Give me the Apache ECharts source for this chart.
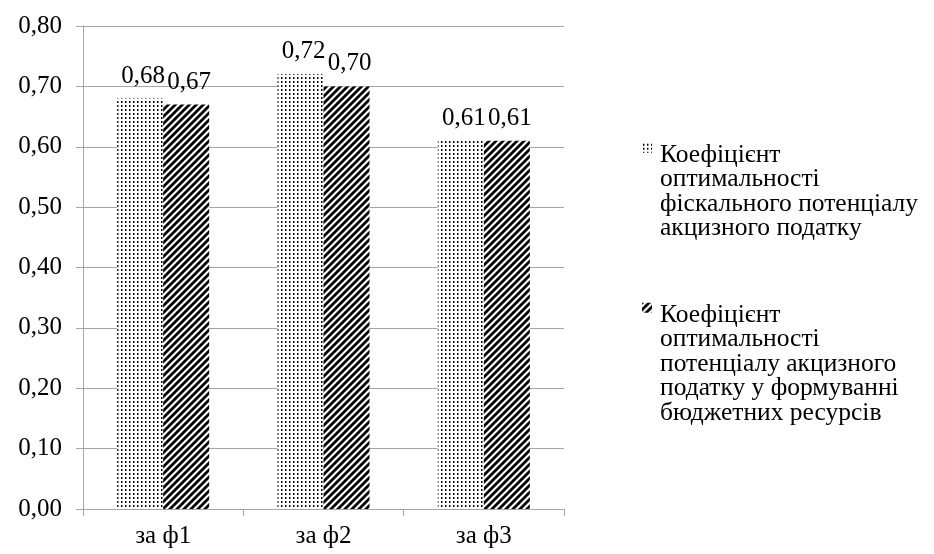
<!DOCTYPE html>
<html>
<head>
<meta charset="utf-8">
<script src="https://cdn.jsdelivr.net/npm/echarts@6/dist/echarts.min.js"></script>
<style>
  html, body { margin: 0; padding: 0; background: #fff; }
  #chart { width: 934px; height: 554px; }
</style>
</head>
<body>
<div id="chart"></div>
<script>
// Categories and the two coefficient series
const categories = ['за ф1', 'за ф2', 'за ф3'];
const fiscalPotential = [0.68, 0.72, 0.61];
const budgetResources = [0.67, 0.70, 0.61];
const seriesNames = [
  'Коефіцієнт\nоптимальності\nфіскального потенціалу\nакцизного податку',
  'Коефіцієнт\nоптимальності\nпотенціалу акцизного\nподатку у формуванні\nбюджетних ресурсів'
];
const yMin = 0, yMax = 0.8, yStep = 0.1;

const FONT = 'Liberation Serif';
const LINE_H = 24.5;
const comma = v => Number(v).toFixed(2).replace('.', ',');

// Dotted fill tile
function dotPattern() {
  const c = document.createElement('canvas');
  c.width = 4; c.height = 4;
  const g = c.getContext('2d');
  g.fillStyle = '#fff'; g.fillRect(0, 0, 4, 4);
  g.fillStyle = '#000'; g.fillRect(1, 1, 1, 2);
  g.fillStyle = '#888'; g.fillRect(2, 1, 1, 2);
  return c;
}
// Diagonal stripe tile
function stripePattern() {
  const n = 7;
  const c = document.createElement('canvas');
  c.width = n; c.height = n;
  const g = c.getContext('2d');
  g.fillStyle = '#fff'; g.fillRect(0, 0, n, n);
  g.strokeStyle = '#000'; g.lineWidth = 2.8; g.lineCap = 'square';
  g.beginPath();
  g.moveTo(0, n); g.lineTo(n, 0);
  g.moveTo(-n / 2, n / 2); g.lineTo(n / 2, -n / 2);
  g.moveTo(n / 2, n + n / 2); g.lineTo(n + n / 2, n / 2);
  g.stroke();
  return c;
}

const dotFill = { image: dotPattern(), repeat: 'repeat' };
const stripeFill = { image: stripePattern(), repeat: 'repeat' };

// Legend marker: a small square at the top of a tall box, so it sits beside the first text line
const markerIcon = lines => 'path://M0,0h10v10h-10z M0,' + (lines * LINE_H) + 'h10';
const lineCount = s => s.split('\n').length;

const chart = echarts.init(document.getElementById('chart'), null, { renderer: 'canvas' });

const labelCfg = {
  show: true,
  position: 'top',
  distance: 10,
  offset: [3, 0],
  formatter: p => comma(p.value),
  fontFamily: FONT,
  fontSize: 25,
  color: '#000'
};

const legendCfg = (i, top) => ({
  data: [seriesNames[i]], orient: 'vertical', left: 642, top: top, padding: 0,
  itemWidth: 10, itemHeight: lineCount(seriesNames[i]) * LINE_H,
  icon: markerIcon(lineCount(seriesNames[i])), selectedMode: false,
  itemStyle: { borderWidth: 0 },
  textStyle: { fontFamily: FONT, fontSize: 25.5, lineHeight: LINE_H, color: '#000', padding: [0, 0, 0, 3] }
});

chart.setOption({
  animation: false,
  backgroundColor: '#fff',
  grid: { left: 83, right: 370, top: 26, bottom: 45, containLabel: false },
  legend: [legendCfg(0, 142), legendCfg(1, 302)],
  xAxis: {
    type: 'category',
    data: categories,
    axisLine: { lineStyle: { color: '#a6a6a6', width: 1 } },
    axisTick: { show: true, length: 7, alignWithLabel: false, lineStyle: { color: '#a6a6a6' } },
    axisLabel: { fontFamily: FONT, fontSize: 25, color: '#000', margin: 15 }
  },
  yAxis: {
    type: 'value',
    min: yMin, max: yMax, interval: yStep,
    axisLine: { show: true, lineStyle: { color: '#a6a6a6', width: 1 } },
    axisTick: { show: true, length: 7, lineStyle: { color: '#a6a6a6' } },
    splitLine: { show: true, lineStyle: { color: '#a6a6a6', width: 1 } },
    axisLabel: { fontFamily: FONT, fontSize: 25, color: '#000', margin: 21, formatter: v => comma(v) }
  },
  series: [
    {
      name: seriesNames[0], type: 'bar', data: fiscalPotential,
      barWidth: 46, barGap: '0%',
      itemStyle: { color: dotFill },
      label: labelCfg
    },
    {
      name: seriesNames[1], type: 'bar', data: budgetResources,
      barWidth: 46, barGap: '0%',
      itemStyle: { color: stripeFill },
      label: labelCfg
    }
  ]
});
</script>
</body>
</html>
